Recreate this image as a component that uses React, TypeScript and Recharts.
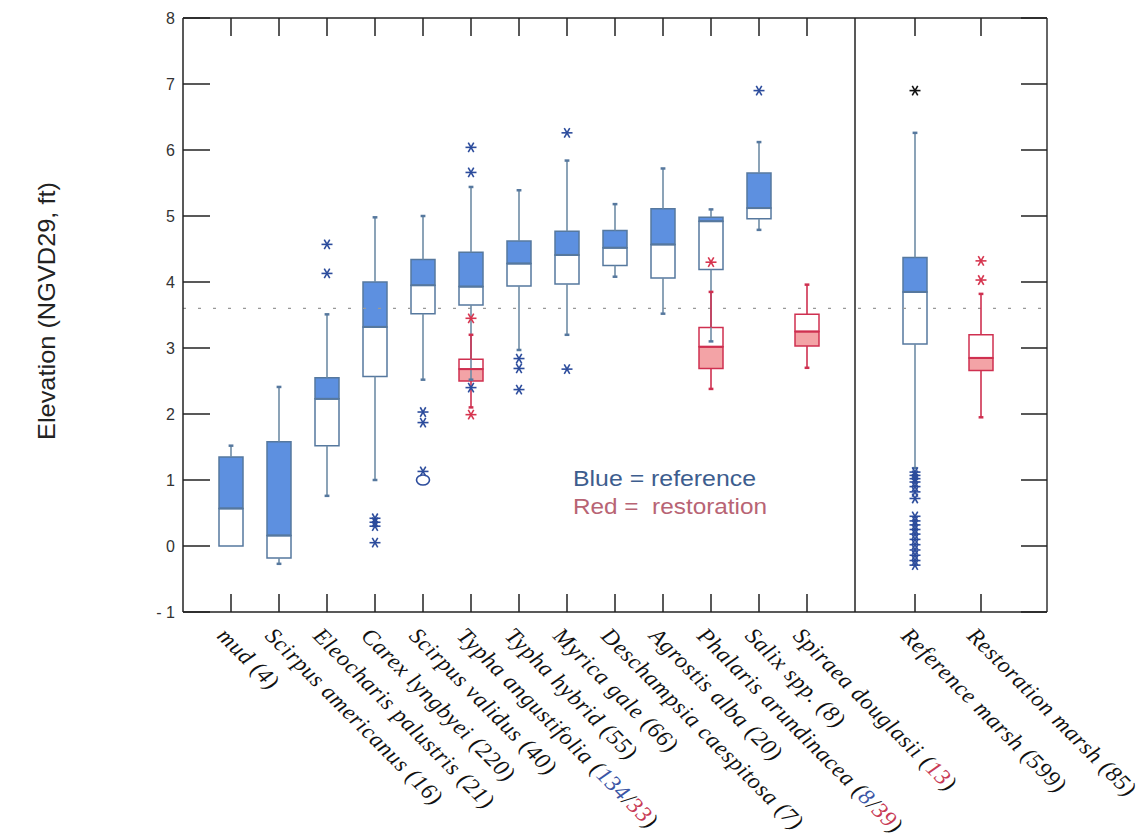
import React from 'react';
import { ComposedChart, XAxis, YAxis, Scatter, ReferenceArea, ReferenceLine } from 'recharts';

// ---------- data ----------
const categoryNames = [
  'mud', 'Scirpus americanus', 'Eleocharis palustris', 'Carex lyngbyei', 'Scirpus validus',
  'Typha angustifolia', 'Typha hybrid', 'Myrica gale', 'Deschampsia caespitosa', 'Agrostis alba',
  'Phalaris arundinacea', 'Salix spp.', 'Spiraea douglasii', 'Reference marsh', 'Restoration marsh',
];
// x location of each category on the numeric category axis (two summary groups are set apart)
const categoryPositions = [1, 2, 3, 4, 5, 6, 7, 8, 9, 10, 11, 12, 13, 15.25, 16.625];
const separatorPosition = 14;
const refCounts = [4, 16, 21, 220, 40, 134, 55, 66, 7, 20, 8, 8, null, 599, null];
const restCounts = [null, null, null, null, null, 33, null, null, null, null, 39, null, 13, null, 85];

// reference (blue) box statistics
const blueMin = [0, -0.27, 0.76, 1.0, 2.52, 2.52, 2.97, 3.2, 4.08, 3.52, 3.1, 4.79, null, 1.18, null];
const blueQ1 = [0, -0.18, 1.52, 2.57, 3.52, 3.65, 3.94, 3.97, 4.25, 4.06, 4.19, 4.96, null, 3.06, null];
const blueMedian = [0.57, 0.16, 2.23, 3.32, 3.95, 3.93, 4.28, 4.41, 4.52, 4.57, 4.92, 5.12, null, 3.85, null];
const blueQ3 = [1.35, 1.58, 2.55, 4.0, 4.34, 4.45, 4.62, 4.77, 4.78, 5.11, 4.98, 5.65, null, 4.37, null];
const blueMax = [1.52, 2.41, 3.51, 4.98, 5.0, 5.44, 5.39, 5.84, 5.18, 5.72, 5.1, 6.12, null, 6.26, null];

// restoration (red) box statistics
const redMin = [null, null, null, null, null, 2.1, null, null, null, null, 2.38, null, 2.7, null, 1.95];
const redQ1 = [null, null, null, null, null, 2.5, null, null, null, null, 2.69, null, 3.03, null, 2.66];
const redMedian = [null, null, null, null, null, 2.68, null, null, null, null, 3.02, null, 3.25, null, 2.85];
const redQ3 = [null, null, null, null, null, 2.83, null, null, null, null, 3.31, null, 3.51, null, 3.2];
const redMax = [null, null, null, null, null, 3.2, null, null, null, null, 3.85, null, 3.96, null, 3.82];

// outliers: [category index, elevation]
const blueOutliers: [number, number][] = [
  [2, 4.57], [2, 4.13],
  [3, 0.42], [3, 0.36], [3, 0.3], [3, 0.05],
  [4, 2.03], [4, 1.87], [4, 1.13],
  [5, 6.04], [5, 5.66], [5, 2.4],
  [6, 2.84], [6, 2.69], [6, 2.37],
  [7, 6.26], [7, 2.68],
  [11, 6.9],
  [13, 1.12], [13, 1.07], [13, 1.02], [13, 0.97], [13, 0.9], [13, 0.82], [13, 0.72],
  [13, 0.45], [13, 0.38], [13, 0.32], [13, 0.25], [13, 0.18], [13, 0.1], [13, 0.02],
  [13, -0.06], [13, -0.14], [13, -0.22], [13, -0.29],
];
const blackOutliers: [number, number][] = [[13, 6.9]];
const extremeOutliers: [number, number][] = [[4, 1.0]];
const redOutliers: [number, number][] = [[5, 3.45], [5, 1.99], [10, 4.3], [14, 4.32], [14, 4.03]];

const yTicks = [-1, 0, 1, 2, 3, 4, 5, 6, 7, 8];
const thresholdElevation = 3.6;

// ---------- layout & styles ----------
const W = 1138;
const H = 829;
const MARGIN = { top: 10, right: 99, left: 135, bottom: 25 };
const Y_AXIS_W = 40;
const X_AXIS_H = 200;
const X_DOMAIN: [number, number] = [0, 18];
const Y_DOMAIN: [number, number] = [-1, 8];
const BLUE_FILL = '#5d90e0';
const BLUE_STROKE = '#56789e';
const BLUE_WHISKER = '#6f8ca6';
const BLUE_STAR = '#2c4c9c';
const RED_FILL = '#f3a3a6';
const RED_STROKE = '#cf3050';
const RED_STAR = '#d6354f';
const HALF = 0.25;
const CAP = 0.05;
const FRAME = '#222';

const toPoints = (list: [number, number][]) => list.map(([c, v]) => ({ x: categoryPositions[c], y: v }));

const makeStar = (color: string) => (props: any) => {
  const { cx, cy } = props;
  const r = 5.5;
  const dx = r * 0.5;
  const dy = r * 0.866;
  return (
    <g stroke={color} strokeWidth={1.6}>
      <line x1={cx - r} y1={cy} x2={cx + r} y2={cy} />
      <line x1={cx - dx} y1={cy - dy} x2={cx + dx} y2={cy + dy} />
      <line x1={cx - dx} y1={cy + dy} x2={cx + dx} y2={cy - dy} />
    </g>
  );
};

const Ring = (props: any) => {
  const { cx, cy } = props;
  return <ellipse cx={cx} cy={cy} rx={6.5} ry={5} fill="none" stroke={BLUE_STAR} strokeWidth={1.6} />;
};

function boxElements(
  key: string, i: number,
  mins: (number | null)[], q1s: (number | null)[], meds: (number | null)[], q3s: (number | null)[], maxs: (number | null)[],
  lowerFill: string, upperFill: string, stroke: string, whisker: string,
) {
  const q1 = q1s[i], med = meds[i], q3 = q3s[i], mn = mins[i], mx = maxs[i];
  if (q1 == null || med == null || q3 == null || mn == null || mx == null) return [];
  const x = categoryPositions[i];
  const els: any[] = [];
  if (mx > q3) {
    els.push(<ReferenceLine key={`${key}wu${i}`} segment={[{ x, y: q3 }, { x, y: mx }]} stroke={whisker} strokeWidth={1.6} />);
    els.push(<ReferenceLine key={`${key}cu${i}`} segment={[{ x: x - CAP, y: mx }, { x: x + CAP, y: mx }]} stroke={stroke} strokeWidth={2.5} />);
  }
  if (mn < q1) {
    els.push(<ReferenceLine key={`${key}wl${i}`} segment={[{ x, y: mn }, { x, y: q1 }]} stroke={whisker} strokeWidth={1.6} />);
    els.push(<ReferenceLine key={`${key}cl${i}`} segment={[{ x: x - CAP, y: mn }, { x: x + CAP, y: mn }]} stroke={stroke} strokeWidth={2.5} />);
  }
  els.push(<ReferenceArea key={`${key}bl${i}`} x1={x - HALF} x2={x + HALF} y1={q1} y2={med} fill={lowerFill} fillOpacity={1} stroke={stroke} strokeWidth={1.5} />);
  els.push(<ReferenceArea key={`${key}bu${i}`} x1={x - HALF} x2={x + HALF} y1={med} y2={q3} fill={upperFill} fillOpacity={1} stroke={stroke} strokeWidth={1.5} />);
  els.push(<ReferenceLine key={`${key}md${i}`} segment={[{ x: x - HALF, y: med }, { x: x + HALF, y: med }]} stroke={stroke} strokeWidth={2} />);
  return els;
}

// bottom axis: inward tick mark + rotated label
function XTick(props: any) {
  const { x, y, payload } = props;
  const i = categoryPositions.indexOf(payload.value);
  if (i < 0) return <g />;
  const ax = x - 15;
  const ay = y + 25;
  const ref = refCounts[i];
  const rest = restCounts[i];
  const isSpecies = i < 13;
  const colored = isSpecies && rest != null;
  const spans: any[] = [<tspan key="n">{`${categoryNames[i]} (`}</tspan>];
  if (ref != null && rest != null) {
    spans.push(<tspan key="a" fill={colored ? '#3a55a5' : undefined}>{ref}</tspan>);
    spans.push(<tspan key="s">/</tspan>);
    spans.push(<tspan key="b" fill={colored ? '#c83a55' : undefined}>{rest}</tspan>);
  } else if (ref != null) {
    spans.push(<tspan key="a">{ref}</tspan>);
  } else if (rest != null) {
    spans.push(<tspan key="b" fill={colored ? '#c83a55' : undefined}>{rest}</tspan>);
  }
  spans.push(<tspan key="c">)</tspan>);
  return (
    <g>
      <line x1={x} y1={y} x2={x} y2={y - 18} stroke={FRAME} strokeWidth={1.5} />
      <text x={ax} y={ay} transform={`rotate(45 ${ax} ${ay})`} fontFamily="'Liberation Serif', 'Times New Roman', serif"
        fontStyle="italic" fontSize={23} letterSpacing={0.6} fill="#111" textAnchor="start">
        {spans}
      </text>
    </g>
  );
}

const yFmt = (v: number) => (v < 0 ? `- ${Math.abs(v)}` : `${v}`);
const blank = () => '';

// plot-frame geometry (same as the chart's own plot area) for the inward frame ticks
const plotLeft = MARGIN.left + Y_AXIS_W;
const plotRight = W - MARGIN.right;
const plotTop = MARGIN.top;
const plotBottom = H - MARGIN.bottom - X_AXIS_H;
const frameX = (v: number) => plotLeft + ((v - X_DOMAIN[0]) / (X_DOMAIN[1] - X_DOMAIN[0])) * (plotRight - plotLeft);
const frameY = (v: number) => plotBottom - ((v - Y_DOMAIN[0]) / (Y_DOMAIN[1] - Y_DOMAIN[0])) * (plotBottom - plotTop);

export default function App() {
  const boxes: any[] = [];
  categoryNames.forEach((_, i) => {
    boxes.push(...boxElements('b', i, blueMin, blueQ1, blueMedian, blueQ3, blueMax, '#ffffff', BLUE_FILL, BLUE_STROKE, BLUE_WHISKER));
  });
  categoryNames.forEach((_, i) => {
    boxes.push(...boxElements('r', i, redMin, redQ1, redMedian, redQ3, redMax, RED_FILL, '#ffffff', RED_STROKE, RED_STROKE));
  });

  return (
    <div style={{ position: 'relative', width: W, height: H, background: '#fff' }}>
      <ComposedChart width={W} height={H} margin={MARGIN}>
        <XAxis xAxisId={0} dataKey="x" type="number" domain={X_DOMAIN} allowDataOverflow ticks={categoryPositions}
          orientation="bottom" height={X_AXIS_H} tickLine={false} tickSize={0} tickMargin={0} interval={0}
          axisLine={{ stroke: FRAME, strokeWidth: 1.5 }} tick={<XTick />} />
        <XAxis xAxisId="top" type="number" domain={X_DOMAIN} allowDataOverflow ticks={categoryPositions}
          orientation="top" mirror tickSize={0} tickFormatter={blank} tickLine={false} interval={0}
          axisLine={{ stroke: FRAME, strokeWidth: 1.5 }} />
        <YAxis yAxisId={0} dataKey="y" type="number" domain={Y_DOMAIN} allowDataOverflow ticks={yTicks}
          width={Y_AXIS_W} tickLine={false} tickSize={6} tickMargin={2} interval={0} tickFormatter={yFmt}
          axisLine={{ stroke: FRAME, strokeWidth: 1.5 }}
          tick={{ fontFamily: "'Liberation Sans', Arial, sans-serif", fontSize: 16, fill: '#333' }} />
        <YAxis yAxisId="rm" type="number" domain={Y_DOMAIN} allowDataOverflow ticks={yTicks}
          orientation="right" mirror tickSize={26} tickFormatter={blank} interval={0}
          axisLine={{ stroke: '#333', strokeWidth: 1.5 }} tickLine={{ stroke: FRAME, strokeWidth: 1.5 }} />

        <ReferenceLine y={thresholdElevation} stroke="#999" strokeWidth={1.2} strokeDasharray="3 12" />
        <ReferenceLine x={separatorPosition} stroke={FRAME} strokeWidth={1.5} />
        {boxes}

        <Scatter data={toPoints(blueOutliers)} dataKey="y" shape={makeStar(BLUE_STAR)} isAnimationActive={false} />
        <Scatter data={toPoints(blackOutliers)} dataKey="y" shape={makeStar('#111')} isAnimationActive={false} />
        <Scatter data={toPoints(extremeOutliers)} dataKey="y" shape={Ring} isAnimationActive={false} />
        <Scatter data={toPoints(redOutliers)} dataKey="y" shape={makeStar(RED_STAR)} isAnimationActive={false} />
      </ComposedChart>
      <svg width={W} height={H} style={{ position: 'absolute', left: 0, top: 0, pointerEvents: 'none', zIndex: 2 }}>
        <g stroke={FRAME} strokeWidth={1.5}>
          {yTicks.map((v) => (
            <line key={`l${v}`} x1={plotLeft} y1={frameY(v)} x2={plotLeft + 27} y2={frameY(v)} />
          ))}
          {categoryPositions.map((p) => (
            <line key={`t${p}`} x1={frameX(p)} y1={plotTop} x2={frameX(p)} y2={plotTop + 18} />
          ))}
        </g>
        <text x={47} y={303} transform="rotate(-90 47 303)" textAnchor="middle"
          fontFamily="'Liberation Sans', Arial, sans-serif" fontSize={24} fill="#222"
          textLength={258} lengthAdjust="spacingAndGlyphs">Elevation (NGVD29, ft)</text>
        <text x={565} y={478} fontFamily="'Liberation Sans', Arial, sans-serif" fontSize={22} fill="#3d5d8e"
          textLength={183} lengthAdjust="spacingAndGlyphs">Blue = reference</text>
        <text x={565} y={506} fontFamily="'Liberation Sans', Arial, sans-serif" fontSize={22} fill="#b86474"
          textLength={194} lengthAdjust="spacingAndGlyphs" xmlSpace="preserve">Red =  restoration</text>
      </svg>
    </div>
  );
}
